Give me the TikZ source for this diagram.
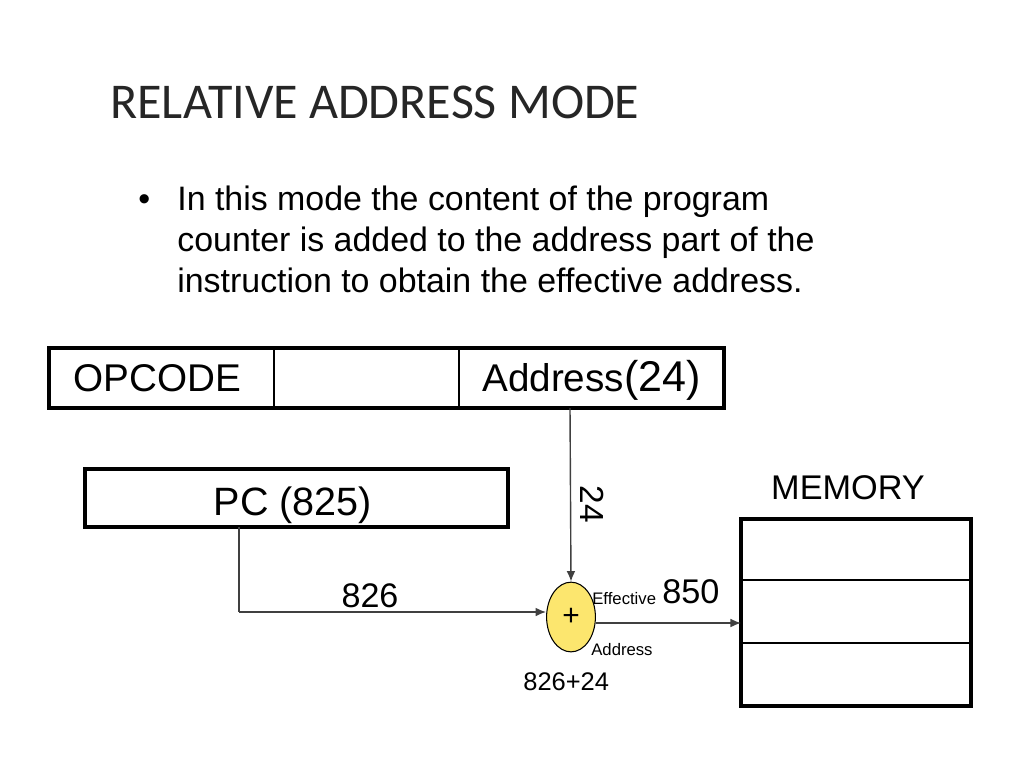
\documentclass[tikz,border=0pt]{standalone}
\usepackage{fontspec}
\setmainfont{Liberation Sans}
\newfontfamily\titlefont{Carlito}
\usetikzlibrary{arrows.meta,shapes.geometric}
\begin{document}
\begin{tikzpicture}[x=0.02cm,y=-0.02cm,
  thickbox/.style={draw=black,line width=1.9pt},
  divider/.style={draw=black,line width=0.8pt},
  conn/.style={draw=black!75,line width=0.8pt,-{Latex[length=6pt,width=5pt]}},
  plain/.style={draw=black!75,line width=0.8pt},
  lbl/.style={inner sep=0pt,anchor=base}]
\useasboundingbox (0,0) rectangle (1024,768);
% title
\node[lbl,anchor=base west,font=\titlefont\fontsize{28.5}{32}\selectfont,text=black!85] (title) at (110,118) {RELATIVE ADDRESS MODE};
% bullet
\node[lbl,anchor=base west,font=\fontsize{19.3}{23}\selectfont] (bul) at (138,210) {•};
\node[lbl,anchor=base west,font=\fontsize{19.3}{23}\selectfont] (l1) at (177,210) {In this mode the content of the program};
\node[lbl,anchor=base west,font=\fontsize{19.3}{23}\selectfont] (l2) at (177,251) {counter is added to the address part of the};
\node[lbl,anchor=base west,font=\fontsize{19.3}{23}\selectfont] (l3) at (177,292) {instruction to obtain the effective address.};
% instruction register
\draw[thickbox] (49,348) rectangle (724,408);
\draw[divider] (274,348) -- (274,408);
\draw[divider] (459,348) -- (459,408);
\node[lbl,anchor=base west,font=\fontsize{22}{24}\selectfont] (opc) at (73,391) {OPCODE};
\node[lbl,anchor=base west,font=\fontsize{22}{24}\selectfont] (addr) at (482,391) {Address\fontsize{24.5}{24}\selectfont(24)};
\coordinate (addrbot) at (570,408);
% PC
\draw[thickbox] (85,469) rectangle (508,527);
\node[lbl,font=\fontsize{22.5}{24}\selectfont] (pc) at (293,515) {PC (825)};
\coordinate (pcbot) at (239,527);
\coordinate (pcbend) at (239,612);
% adder
\node[ellipse,draw=black,line width=0.6pt,fill={rgb,255:red,252;green,230;blue,110},minimum width=49pt*0.567,minimum height=70pt*0.567,inner sep=0pt,font=\fontsize{17}{18}\selectfont] (add) at (571,617) {+};
\draw[conn] (addrbot) -- (add.north);
\node[rotate=-90,font=\fontsize{19}{20}\selectfont,inner sep=0pt] (n24) at (592,504) {24};
\draw[plain] (pcbot) -- (pcbend);
\draw[conn] (pcbend) -- (add.west |- pcbend);
\node[lbl,font=\fontsize{19.4}{20}\selectfont] (n826) at (370,607) {826};
% memory
\node[lbl,font=\fontsize{19.5}{22}\selectfont] (memlbl) at (848,499) {MEMORY};
\draw[thickbox] (741,519) rectangle (971,706);
\draw[divider] (741,580) -- (971,580);
\draw[divider] (741,643) -- (971,643);
\coordinate (memin) at (741,623);
\draw[conn] (add.east |- memin) -- (memin);
\node[lbl,anchor=base west,font=\fontsize{9.5}{11}\selectfont] (eff) at (592,604) {Effective};
\node[lbl,anchor=base west,font=\fontsize{19.5}{20}\selectfont] (n850) at (662,603) {850};
\node[lbl,anchor=base west,font=\fontsize{9.5}{11}\selectfont] (adr2) at (591,655) {Address};
\node[lbl,anchor=base west,font=\fontsize{14.5}{16}\selectfont] (sum) at (523,690) {826+24};
\end{tikzpicture}
\end{document}
